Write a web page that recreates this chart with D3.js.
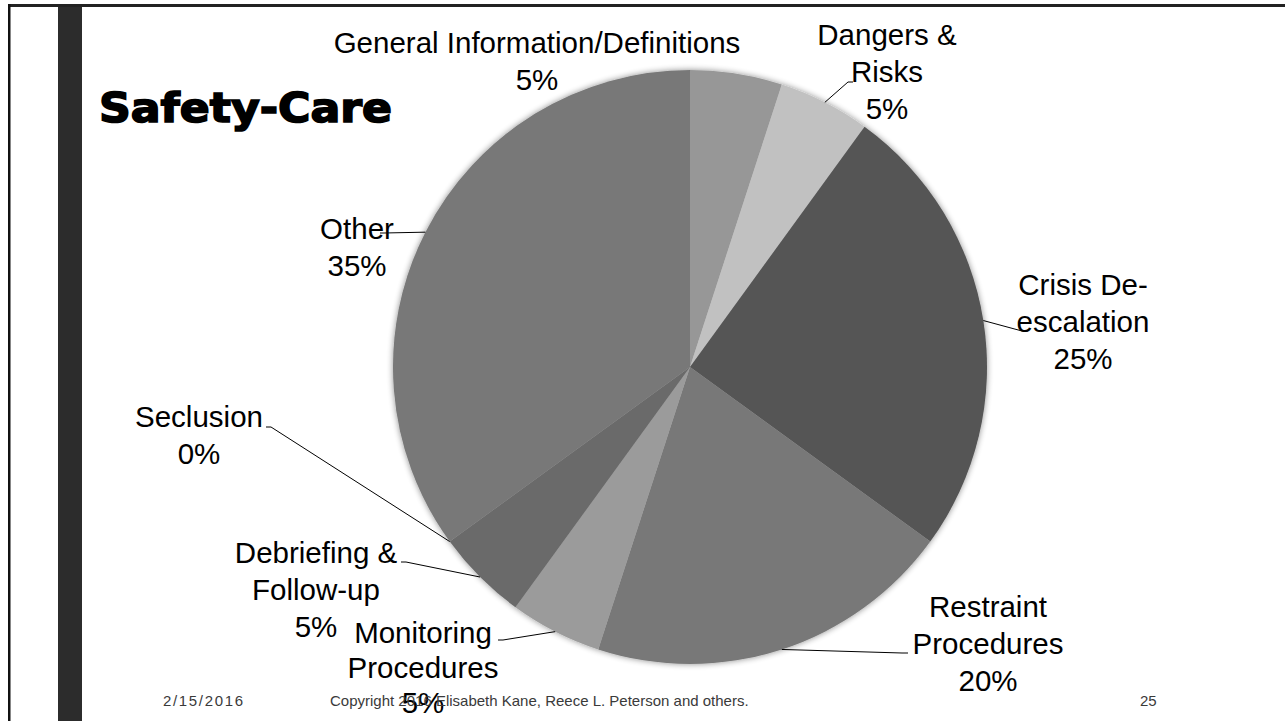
<!DOCTYPE html>
<html><head><meta charset="utf-8">
<script src="https://cdn.jsdelivr.net/npm/d3@7"></script>
<style>html,body{margin:0;padding:0;background:#fff;overflow:hidden}</style>
</head><body>
<svg id="c" width="1285" height="721"></svg>
<script>
// ---- data ----
const categories = ["General Information/Definitions","Dangers & Risks","Crisis De-escalation","Restraint Procedures","Monitoring Procedures","Debriefing & Follow-up","Seclusion","Other"];
const values = [5,5,25,20,5,5,0,35];
const labelLines = [
  ["General Information/Definitions"],
  ["Dangers &","Risks"],
  ["Crisis De-","escalation"],
  ["Restraint","Procedures"],
  ["Monitoring","Procedures"],
  ["Debriefing &","Follow-up"],
  ["Seclusion"],
  ["Other"]
];
const title = "Safety-Care";
const footerDate = "2/15/2016";
const footerText = "Copyright 2016 Elisabeth Kane, Reece L. Peterson and others.";
const footerPage = "25";

// ---- styles / layout ----
const colors = ["#979797","#c1c1c1","#555555","#787878","#9b9b9b","#6a6a6a","#888888","#787878"];
const cx = 690, cy = 367, R = 297;
const lineH = 37;
// label layout: centre x, first baseline y, leader elbow and end
const labelLayout = [
  {x:537, y:53,  lh:37, leader:null},
  {x:887, y:45,  lh:37, leader:[[848,82],[853,82]]},
  {x:1083,y:295, lh:37, leader:[[1022,331],[1028,331]]},
  {x:988, y:617, lh:37, leader:[[902,653],[908,653]]},
  {x:423, y:643, lh:35, leader:[[503,640],[498,640]]},
  {x:316, y:563, lh:37, leader:[[406,562],[401,562]]},
  {x:199, y:427, lh:37, leader:[[271,427],[266,427]]},
  {x:357, y:239, lh:37, leader:[[384,233],[380,233]]}
];

const svg = d3.select("#c");

// frame
svg.append("rect").attr("x",8).attr("y",4).attr("width",1285).attr("height",3).attr("fill","#222");
svg.append("rect").attr("x",8).attr("y",4).attr("width",2.5).attr("height",721).attr("fill","#111");
svg.append("rect").attr("x",58).attr("y",7).attr("width",24).attr("height",721).attr("fill","#2c2c2c");

// shadow filter
const defs = svg.append("defs");
const f = defs.append("filter").attr("id","sh").attr("x","-10%").attr("y","-10%").attr("width","120%").attr("height","120%");
f.append("feGaussianBlur").attr("in","SourceAlpha").attr("stdDeviation",3).attr("result","b");
f.append("feComponentTransfer").attr("in","b").attr("result","b2")
  .append("feFuncA").attr("type","linear").attr("slope",0.45);
const m = f.append("feMerge");
m.append("feMergeNode").attr("in","b2");
m.append("feMergeNode").attr("in","SourceGraphic");

const pie = d3.pie().sort(null).value(d=>d)(values);
const arc = d3.arc().innerRadius(0).outerRadius(R);

const g = svg.append("g").attr("transform",`translate(${cx},${cy})`);
const sl = g.append("g").attr("filter","url(#sh)");
sl.selectAll("path").data(pie).join("path")
  .attr("d",arc).attr("fill",(d,i)=>colors[i]);

// leaders
const lines = svg.append("g");
pie.forEach((d,i)=>{
  const L = labelLayout[i];
  if(!L.leader) return;
  const a = (d.startAngle+d.endAngle)/2;
  const p0 = [cx + R*Math.sin(a), cy - R*Math.cos(a)];
  const pts = [p0, ...L.leader];
  lines.append("path").attr("d", d3.line()(pts)).attr("fill","none")
    .attr("stroke","#000").attr("stroke-width",1);
});

// labels
const fmt = d3.format(".0%");
const labs = svg.append("g").attr("font-family","'Liberation Sans', Arial, sans-serif")
  .attr("font-size",29.5).attr("fill","#000").attr("text-anchor","middle");
pie.forEach((d,i)=>{
  const L = labelLayout[i];
  const lines2 = labelLines[i].concat([fmt(values[i]/100)]);
  const t = labs.append("text").attr("x",L.x).attr("y",L.y);
  lines2.forEach((s,k)=>{
    t.append("tspan").attr("x",L.x).attr("y",L.y + k*L.lh).text(s);
  });
});

// title
svg.append("text").attr("x",99).attr("y",122)
  .attr("font-family","'DejaVu Sans', sans-serif").attr("font-weight","bold")
  .attr("font-size",40).attr("textLength",293).attr("lengthAdjust","spacingAndGlyphs")
  .attr("stroke","#000").attr("stroke-width",1.6).attr("fill","#000").text(title);

// footer
const ft = svg.append("g").attr("font-family","'Liberation Sans', Arial, sans-serif").attr("font-size",15).attr("fill","#3a3a3a");
ft.append("text").attr("x",163).attr("y",706).attr("textLength",80).attr("lengthAdjust","spacing").text(footerDate);
ft.append("text").attr("x",330).attr("y",706).text(footerText);
ft.append("text").attr("x",1140).attr("y",706).text(footerPage);
</script>
</body></html>
